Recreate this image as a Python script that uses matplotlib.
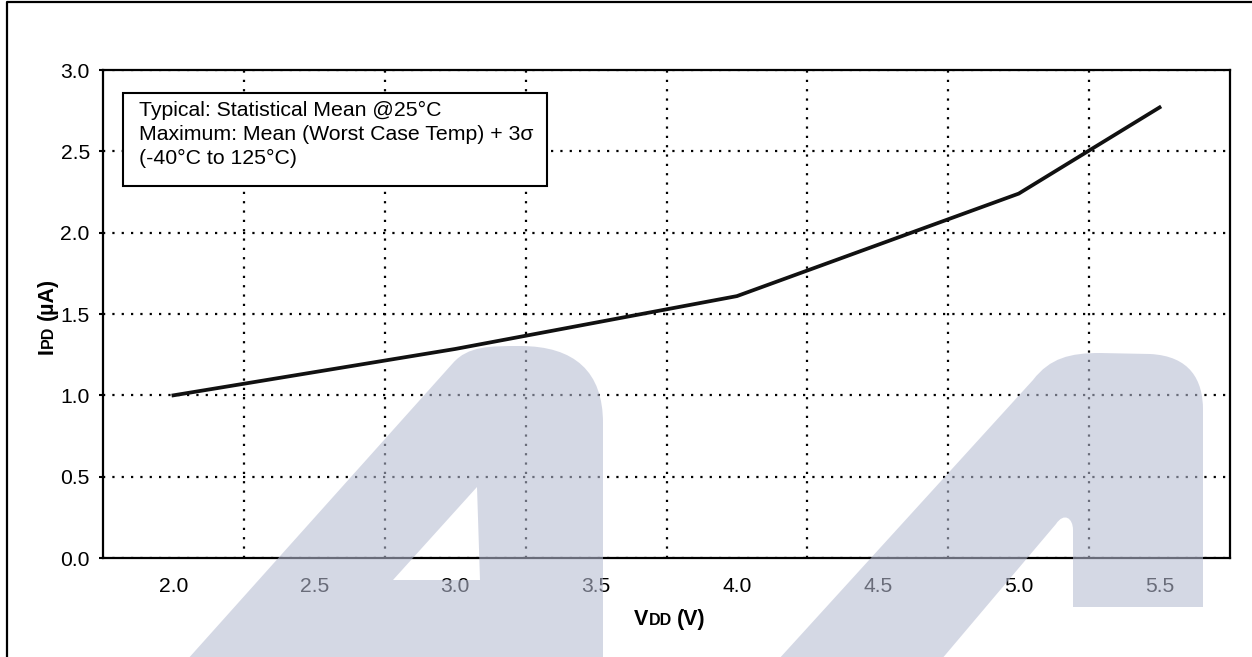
import numpy as np
import matplotlib
matplotlib.use("Agg")
import matplotlib.pyplot as plt
from matplotlib.path import Path
from matplotlib.patches import PathPatch, Rectangle
from matplotlib.lines import Line2D
from matplotlib.transforms import IdentityTransform

# data
vdd = [2.0, 3.0, 4.0, 5.0, 5.5]
ipd = [1.00, 1.285, 1.61, 2.24, 2.77]
x_ticks = [2.0, 2.5, 3.0, 3.5, 4.0, 4.5, 5.0, 5.5]
y_ticks = [0.0, 0.5, 1.0, 1.5, 2.0, 2.5, 3.0]
note = ("Typical: Statistical Mean @25°C\n"
        "Maximum: Mean (Worst Case Temp) + 3σ\n"
        "(-40°C to 125°C)")

W, H = 1252, 657
plt.rcParams["font.family"] = ["Liberation Sans", "DejaVu Sans"]

fig = plt.figure(figsize=(W / 100, H / 100), dpi=100)
ax = fig.add_axes([103 / W, 1 - 558 / H, (1230 - 103) / W, (558 - 70) / H])

ax.plot(vdd, ipd, color="#111111", lw=2.7, zorder=3)
ax.set_xlim(1.75, 5.75)
ax.set_ylim(0, 3)

ax.set_xticks(x_ticks)
ax.set_xticklabels([f"{v:.1f}" for v in x_ticks])
ax.set_xticks(np.array(x_ticks[:-1]) + 0.25, minor=True)
ax.set_yticks(y_ticks)
ax.set_yticklabels([f"{v:.1f}" for v in y_ticks])

dots = (0, (1, 3.2))
ax.grid(which="minor", axis="x", ls=dots, color="black", lw=1.6)
ax.grid(which="major", axis="y", ls=dots, color="black", lw=1.6)
ax.grid(which="major", axis="x", visible=False)

ax.tick_params(axis="x", which="both", length=0, pad=14, labelsize=15.2)
ax.tick_params(axis="y", length=3, width=1.5, direction="out", pad=6.5, labelsize=15.2)
for sp in ax.spines.values():
    sp.set_linewidth(1.6)

# note box
fig.add_artist(Rectangle((123, H - 186), 424, 93, transform=IdentityTransform(),
                         fc="white", ec="black", lw=1.5, zorder=5))
fig.text(139, H - 101, note, transform=IdentityTransform(), fontsize=15.3,
         ha="left", va="top", linespacing=1.33, zorder=6)


def piece_label(pieces, x0, y0, rotation):
    r = fig.canvas.get_renderer()
    arts, lens = [], []
    for s, fs, gap in pieces:
        t = fig.text(0, 0, s, fontsize=fs, fontweight="bold", rotation=rotation,
                     rotation_mode="anchor", ha="left", va="baseline",
                     transform=IdentityTransform())
        bb = t.get_window_extent(r)
        arts.append((t, gap))
        lens.append(gap + (bb.width if rotation == 0 else bb.height))
    pos = -sum(lens) / 2
    for (t, gap), L in zip(arts, lens):
        p = pos + gap
        t.set_position((x0 + p, y0) if rotation == 0 else (x0, y0 + p))
        pos += L


piece_label([("V", 15.5, 0), ("DD", 11.5, 0.5), ("(V)", 15.5, 5)], 670, H - 625, 0)
piece_label([("I", 15.5, 0), ("PD", 11.5, 0.5), ("(µA)", 15.5, 5)], 53, H - 316, 90)

# outer frame (only top and left visible)
fig.add_artist(Line2D([7, 7, W + 5], [-5, H - 2, H - 2], color="black", lw=1.6,
                      transform=IdentityTransform()))


# watermark logo shapes
def px(pts):
    return [(x, H - y) for x, y in pts]


M, L4, L2, C = Path.MOVETO, Path.CURVE4, Path.LINETO, Path.CLOSEPOLY
left_outer = [(187, 660), (453, 363), (468, 346), (490, 346), (520, 346),
              (575, 346), (603, 372), (603, 423), (603, 660), (187, 660)]
left_codes = [M, L2, L4, L4, L4, L4, L4, L4, L2, C]
left_hole = [(477, 487), (393, 580), (480, 580), (477, 487)]
hole_codes = [M, L2, L2, C]
right_outer = [(778, 660), (1033, 380), (1050, 358), (1070, 353), (1100, 353),
               (1150, 354), (1190, 356), (1203, 380), (1203, 410), (1203, 607),
               (1073, 607), (1073, 530), (1073, 518), (1064, 512), (1056, 524),
               (941, 660), (778, 660)]
right_codes = [M, L2, L4, L4, L4, L2, L4, L4, L4, L2, L2, L2, L4, L4, L4, L2, C]

wm = Path(px(left_outer) + px(left_hole) + px(right_outer),
          left_codes + hole_codes + right_codes)
fig.add_artist(PathPatch(wm, transform=IdentityTransform(),
                         fc=(182 / 255, 188 / 255, 210 / 255),
                         alpha=0.58, ec="none", zorder=10))

fig.savefig("out.png", dpi=100)
